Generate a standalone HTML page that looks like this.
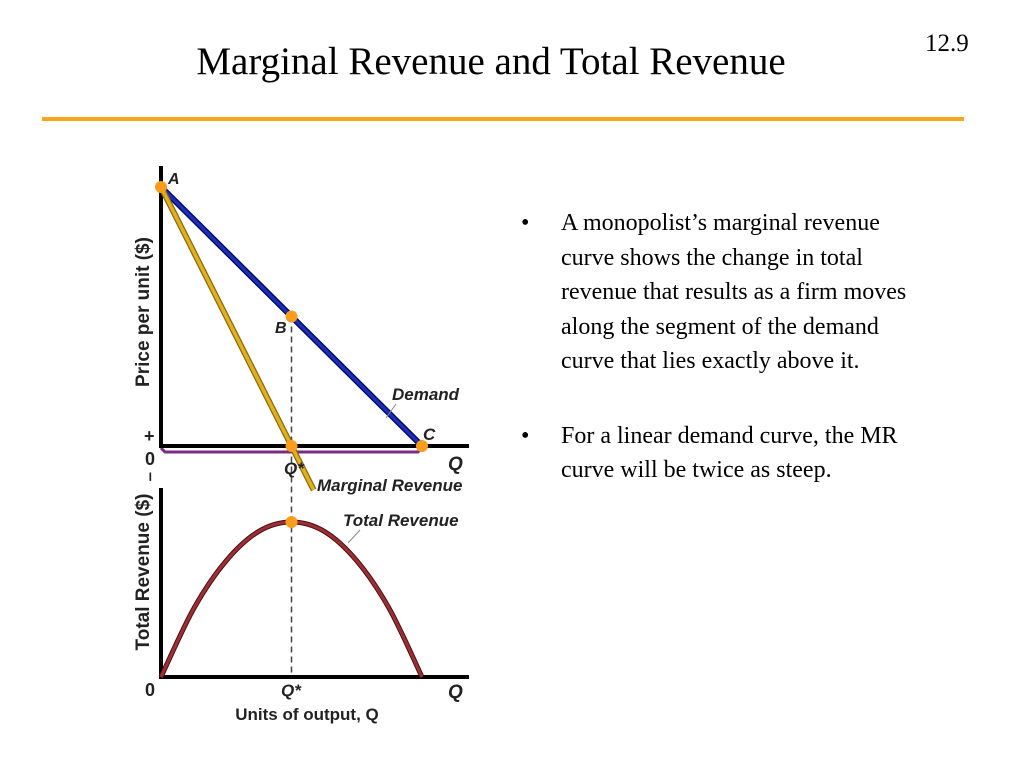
<!DOCTYPE html>
<html><head><meta charset="utf-8"><style>
body{margin:0;width:1024px;height:768px;background:#fff;overflow:hidden;position:relative;font-family:"Liberation Serif",serif}
.title{position:absolute;left:0;width:982px;text-align:center;top:39px;font-size:39px;color:#000}
.num{position:absolute;left:925px;top:30px;font-size:25px}
.rule{position:absolute;left:42px;top:117px;width:922px;height:4px;background:#f9a61a}
ul{position:absolute;left:515px;top:206px;margin:0;padding:0;list-style:none;font-size:24px;line-height:34.5px;width:462px}
li{position:relative;padding-left:46px;margin-bottom:40px}
li:before{content:"•";position:absolute;left:6px}
svg{position:absolute;left:0;top:0}
svg text{font-family:"Liberation Sans",sans-serif;font-weight:bold}
</style></head><body>
<div class="title">Marginal Revenue and Total Revenue</div>
<div class="num">12.9</div>
<div class="rule"></div>
<ul>
<li>A monopolist’s marginal revenue<br>curve shows the change in total<br>revenue that results as a firm moves<br>along the segment of the demand<br>curve that lies exactly above it.</li>
<li>For a linear demand curve, the MR<br>curve will be twice as steep.</li>
</ul>
<svg id="chart" width="1024" height="768"></svg>
<script>
const demandQ=[0,1,2];
const demandP=[2,1,0];
const mrQ=[0,1.17];
const mrP=[2,-0.34];
const trQ=[0,0.25,0.5,0.75,1,1.25,1.5,1.75,2];
const trV=[0,0.44,0.75,0.94,1,0.94,0.75,0.44,0];
const pointLabels=["A","B","C"];

const X=q=>161+q*130.5;
const YP=p=>446-p*129.5;
const YT=v=>677-v*155;
const svg=document.getElementById('chart');
const NS='http://www.w3.org/2000/svg';
function mk(tag,attrs,name){const e=document.createElementNS(NS,tag);for(const k in attrs)e.setAttribute(k,attrs[k]);


svg.appendChild(e);return e;}
function txt(x,y,s,name,size,italic,anchor,rot){const t=mk('text',{x:x,y:y,'font-size':size||17,fill:'#222'},name);if(italic)t.setAttribute('font-style','italic');if(anchor)t.setAttribute('text-anchor',anchor);if(rot)t.setAttribute('transform',rot);t.textContent=s;return t;}

mk('line',{x1:X(1),y1:YP(1),x2:X(1),y2:677,stroke:'#444','stroke-width':1.5,'stroke-dasharray':'6,4'},'q-star-guide');
mk('polyline',{points:`${X(0)},${YP(0)+2} ${X(0)+4},${YP(0)+6} ${X(2)-4},${YP(0)+6} ${X(2)},${YP(0)+2}`,fill:'none',stroke:'#7a2b84','stroke-width':3},'negative-region-bar');
mk('line',{x1:161,y1:166,x2:161,y2:448,stroke:'#000','stroke-width':4},'price-y-axis');
mk('line',{x1:159,y1:446,x2:469,y2:446,stroke:'#000','stroke-width':4},'price-x-axis');
mk('line',{x1:X(demandQ[0]),y1:YP(demandP[0]),x2:X(demandQ[2]),y2:YP(demandP[2]),stroke:'#000060','stroke-width':6},'demand-outline');
mk('line',{x1:X(demandQ[0]),y1:YP(demandP[0]),x2:X(demandQ[2]),y2:YP(demandP[2]),stroke:'#1a2fb5','stroke-width':3.5},'demand-line');
mk('line',{x1:X(mrQ[0]),y1:YP(mrP[0]),x2:X(mrQ[1]),y2:YP(mrP[1]),stroke:'#8a6a10','stroke-width':6},'mr-outline');
mk('line',{x1:X(mrQ[0]),y1:YP(mrP[0]),x2:X(mrQ[1]),y2:YP(mrP[1]),stroke:'#e0b020','stroke-width':3.5},'marginal-revenue-line');
demandQ.forEach((q,i)=>{mk('circle',{cx:X(q),cy:YP(demandP[i]),r:6,fill:'#fb9d1c'},'point-'+pointLabels[i].toLowerCase());});
mk('circle',{cx:X(1),cy:YP(0),r:6,fill:'#fb9d1c'},'point-q-star');
txt(168,184,'A','label-a',16,true);
txt(275,333,'B','label-b',16,true);
txt(423,440,'C','label-c',17,true);
txt(392,400,'Demand','demand-label',17,true);
mk('line',{x1:396,y1:404,x2:386,y2:418,stroke:'#888','stroke-width':1},'demand-leader');
txt(317,491,'Marginal Revenue','mr-label',17,true);
txt(144,442,'+','plus-sign',18);
txt(145,465,'0','zero-top',18);
txt(144,482,'–','minus-sign',17,false,null,'rotate(90 150 478)');
txt(284,474,'Q*','q-star-top',17,true);
txt(448,470,'Q','q-top',19,true);
txt(149,312,'Price per unit ($)','price-y-title',19,false,'middle','rotate(-90 149 312)');
mk('line',{x1:161,y1:488,x2:161,y2:679,stroke:'#000','stroke-width':4},'tr-y-axis');
mk('line',{x1:159,y1:677,x2:469,y2:677,stroke:'#000','stroke-width':4},'tr-x-axis');
let d='M'+X(trQ[0])+','+YT(trV[0]);
for(let i=0;i<trQ.length-1;i++){const p0=i?i-1:i,p3=i+2<trQ.length?i+2:i+1;
const c1x=X(trQ[i])+(X(trQ[i+1])-X(trQ[p0]))/6,c1y=YT(trV[i])+(YT(trV[i+1])-YT(trV[p0]))/6;
const c2x=X(trQ[i+1])-(X(trQ[p3])-X(trQ[i]))/6,c2y=YT(trV[i+1])-(YT(trV[p3])-YT(trV[i]))/6;
d+=` C${c1x},${c1y} ${c2x},${c2y} ${X(trQ[i+1])},${YT(trV[i+1])}`;}
mk('path',{d:d,fill:'none',stroke:'#4a1010','stroke-width':5},'tr-outline');
mk('path',{d:d,fill:'none',stroke:'#9b2f35','stroke-width':3},'total-revenue-curve');
mk('circle',{cx:X(1),cy:YT(1),r:6,fill:'#fb9d1c'},'tr-peak-point');
txt(343,526,'Total Revenue','tr-label',17,true);
mk('line',{x1:360,y1:530,x2:348,y2:543,stroke:'#888','stroke-width':1},'tr-leader');
txt(145,696,'0','zero-bottom',18);
txt(281,696,'Q*','q-star-bottom',17,true);
txt(448,698,'Q','q-bottom',19,true);
txt(307,720,'Units of output, Q','x-axis-title',17,false,'middle');
txt(149,572,'Total Revenue ($)','tr-y-title',19,false,'middle','rotate(-90 149 572)');
</script>
</body></html>
